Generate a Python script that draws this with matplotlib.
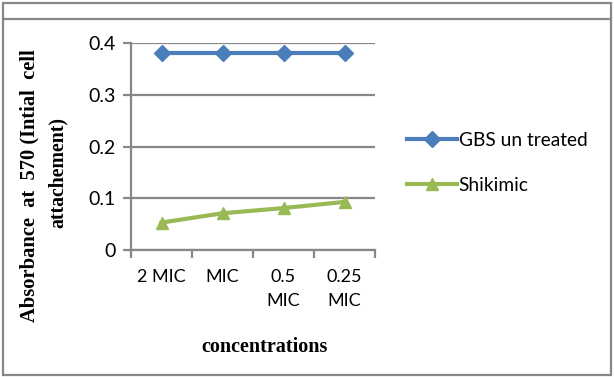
import matplotlib.pyplot as plt
from matplotlib.lines import Line2D
from matplotlib.patches import Rectangle

categories = ['2 MIC', 'MIC', '0.5\nMIC', '0.25\nMIC']
gbs_untreated = [0.38, 0.38, 0.38, 0.38]
shikimic = [0.053, 0.071, 0.081, 0.093]
y_ticks = [0, 0.1, 0.2, 0.3, 0.4]
y_tick_labels = ['0', '0.1', '0.2', '0.3', '0.4']

W, H = 614, 377
fig = plt.figure(figsize=(W / 100, H / 100), dpi=100)
fig.patch.set_facecolor('white')

# outer frame and the band line near the top
grey = '#878787'
fig.add_artist(Rectangle((2.5 / W, 1 - 374.5 / H), 608 / W, 372 / H,
                         transform=fig.transFigure, fill=False, edgecolor=grey, lw=1.6))
fig.add_artist(Line2D([2.5 / W, 610.5 / W], [1 - 18.5 / H, 1 - 18.5 / H],
                      transform=fig.transFigure, color=grey, lw=1.6))

# axes: x from 131 to 375 px, y from 43 to 250 px
ax = fig.add_axes([131 / W, 1 - 250 / H, 244 / W, 207 / H])
x = list(range(len(categories)))
ax.plot(x, gbs_untreated, color='#4a7ebb', lw=3, marker='D', ms=8,
        label='GBS un treated', zorder=3)
ax.plot(x, shikimic, color='#98b954', lw=3, marker='^', ms=9,
        label='Shikimic', zorder=3)

ax.set_xlim(-0.5, len(categories) - 0.5)
ax.set_ylim(0, 0.4)
ax.set_yticks(y_ticks)
ax.set_yticklabels(y_tick_labels)
ax.set_xticks(x)
ax.set_xticklabels(categories, linespacing=1.55)
ax.set_xticks([i - 0.5 for i in range(len(categories) + 1)], minor=True)
ax.tick_params(axis='x', which='major', length=0, pad=14, labelsize=13)
ax.tick_params(axis='x', which='minor', length=6, width=1.6, color=grey)
ax.tick_params(axis='y', length=6, width=1.6, color=grey, labelsize=14, pad=5)
ax.grid(axis='y', color=grey, lw=1.6)
ax.set_axisbelow(True)
for s in ['top', 'right']:
    ax.spines[s].set_visible(False)
for s in ['left', 'bottom']:
    ax.spines[s].set_color(grey)
    ax.spines[s].set_linewidth(1.6)
for lab in ax.get_xticklabels() + ax.get_yticklabels():
    lab.set_family(['Lato', 'DejaVu Sans'])

fig.text(265 / W, 1 - 347 / H, 'concentrations', family='Liberation Serif',
         weight='bold', fontsize=14.5, ha='center', va='center')
fig.text(29 / W, 1 - 186 / H, 'Absorbance  at  570 (Intial  cell',
         family='Liberation Serif', weight='bold', fontsize=14.8,
         rotation=90, ha='center', va='center')
fig.text(58 / W, 1 - 173 / H, 'attachement)',
         family='Liberation Serif', weight='bold', fontsize=14.3,
         rotation=90, ha='center', va='center')

leg = ax.legend(loc='center left', bbox_to_anchor=(1.06, 0.42), frameon=False,
                handlelength=2.6, labelspacing=1.45, handletextpad=0.1,
                prop={'family': 'Lato', 'size': 13.8})

fig.savefig('out.png', dpi=100)
